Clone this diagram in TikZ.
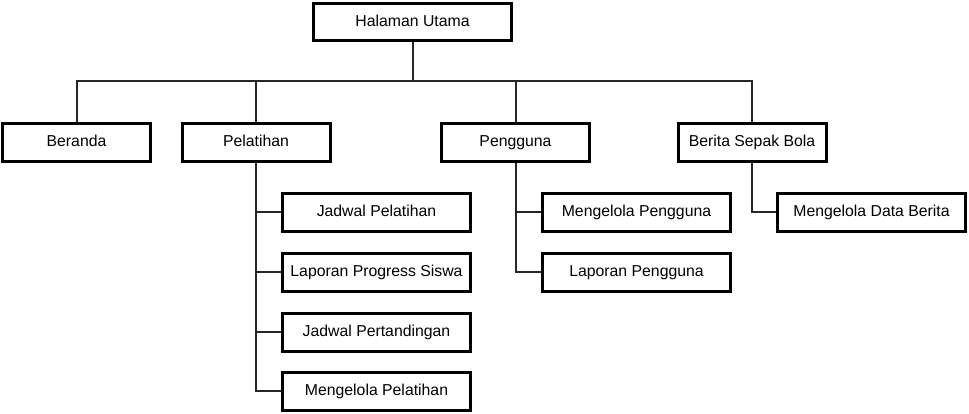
\documentclass[tikz,border=0pt]{standalone}
\usepackage{fontspec}
\setmainfont{Liberation Sans}
\begin{document}
\begin{tikzpicture}[x=1pt,y=-1pt,
  box/.style={draw=black,line width=3pt,fill=white,rectangle,inner sep=0pt,
    minimum height=38pt,text height=11.3pt,text depth=3.3pt,
    font=\fontsize{15.8}{18}\selectfont},
  topbox/.style={box,minimum width=148pt},
  subbox/.style={box,minimum width=188pt},
  conn/.style={draw=black!85,line width=2pt}]
\useasboundingbox (0,0) rectangle (969,413);
\coordinate (bus) at (0,81);
\node[box,minimum width=198pt,minimum height=37pt] (ha) at (412.5,22) {Halaman Utama};
\node[topbox] (ber) at (76.5,142) {Beranda};
\node[topbox] (pel) at (256,142) {Pelatihan};
\node[topbox] (pen) at (515.5,142) {Pengguna};
\node[topbox] (bsb) at (752,142) {Berita Sepak Bola};
\node[subbox] (jp) at (376.5,212) {Jadwal Pelatihan};
\node[subbox] (lps) at (376.5,272) {Laporan Progress Siswa};
\node[subbox] (jpt) at (376.5,332) {Jadwal Pertandingan};
\node[subbox] (mp) at (376.5,391) {Mengelola Pelatihan};
\node[subbox] (mpg) at (636.5,212) {Mengelola Pengguna};
\node[subbox] (lpg) at (636.5,272) {Laporan Pengguna};
\node[subbox] (mdb) at (871.5,212) {Mengelola Data Berita};
\draw[conn] (ha.south) -- (ha.south |- bus) -| (ber.north);
\draw[conn] (ha.south |- bus) -| (pel.north);
\draw[conn] (ha.south |- bus) -| (pen.north);
\draw[conn] (ha.south |- bus) -| (bsb.north);
\draw[conn] (pel.south) |- (jp.west);
\draw[conn] (pel.south) |- (lps.west);
\draw[conn] (pel.south) |- (jpt.west);
\draw[conn] (pel.south) |- (mp.west);
\draw[conn] (pen.south) |- (mpg.west);
\draw[conn] (pen.south) |- (lpg.west);
\draw[conn] (bsb.south) |- (mdb.west);
\end{tikzpicture}
\end{document}
